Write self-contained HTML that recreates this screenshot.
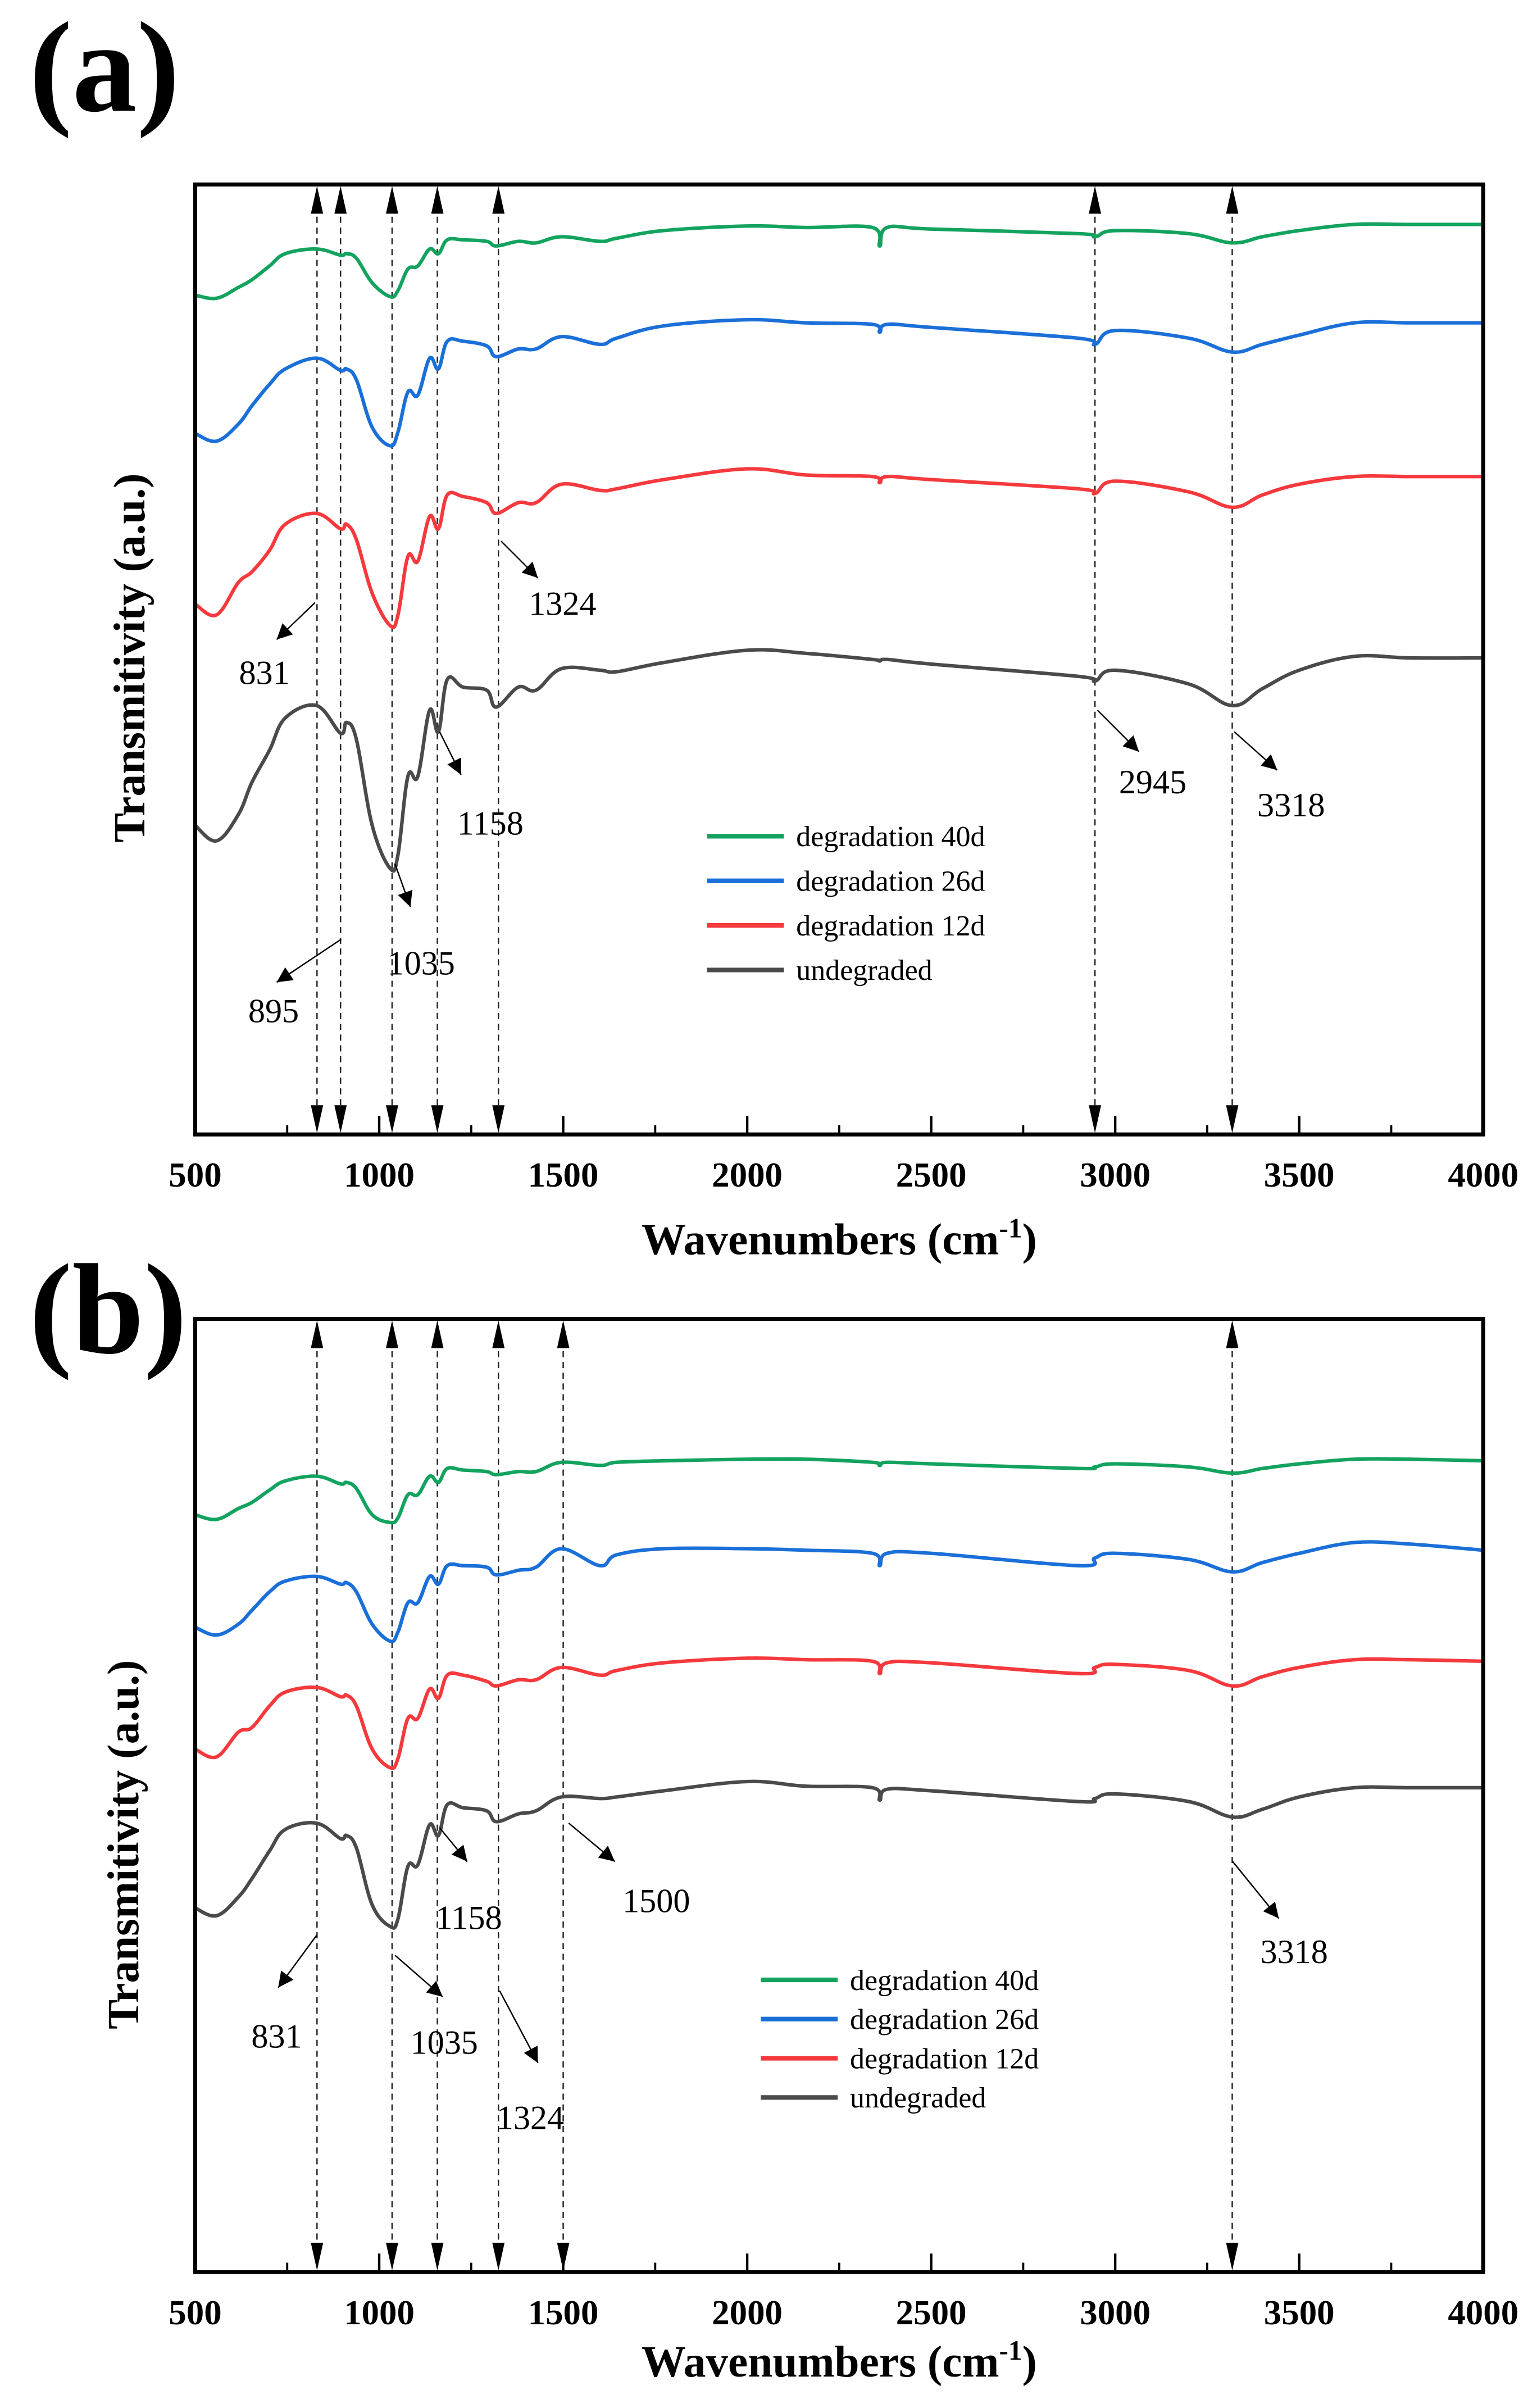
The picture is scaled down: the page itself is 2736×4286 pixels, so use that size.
<!DOCTYPE html>
<html><head><meta charset="utf-8">
<style>
html,body{margin:0;padding:0;background:#fff;}
svg{display:block;}
text{font-family:"Liberation Serif",serif;fill:#000;}
</style></head>
<body>
<svg id="fig" xmlns="http://www.w3.org/2000/svg" width="2736" height="4286" viewBox="0 0 1000 1566.5">
<defs>
<marker id="ah" viewBox="0 0 10 10" refX="10" refY="5" markerWidth="14" markerHeight="10" markerUnits="userSpaceOnUse" orient="auto"><path d="M0,0 L10,5 L0,10 z" fill="#000"/></marker>
</defs>
<g id="root"></g>
</svg>
<script>
const wavenumbers = [500,558,617,654,702,745,830,895,911,938,981,1030,1051,1078,1105,1137,1161,1185,1228,1292,1318,1378,1426,1495,1600,1645,1773,2000,2159,2340,2360,2380,2500,2900,2945,3000,3200,3318,3400,3500,3650,3800,4000];
const seriesNames = ["degradation 40d","degradation 26d","degradation 12d","undegraded"];
const seriesColors = ["#13a35f","#1a6fd8","#f5393d","#4a4a4a"];
const xTicks = [500,1000,1500,2000,2500,3000,3500,4000];
const xMinorTicks = [750,1250,1750,2250,2750,3250,3750];
// panel (a)
const a40 = [546,544,551,556,565,573,576,572,573,570,554,545,549,563,565,576,573,582,582,581,578,581,580,584,581,583,588,591,590,590,578,590,589,586,584,588,586,580,584,588,592,592,592];
const a26 = [456,451,462,474,488,498,505,497,498,491,460,448,457,483,481,505,498,516,516,513,506,511,511,519,514,518,526,530,528,527,522,527,525,518,514,523,518,509,514,520,528,528,528];
const a12 = [345,338,359,366,380,397,404,394,397,387,352,331,338,376,373,402,394,416,415,411,404,411,411,423,419,420,426,433,429,428,424,428,426,420,417,425,418,408,416,423,428,428,428];
const a0  = [201,191,208,229,250,271,279,261,268,257,201,173,182,233,233,276,262,296,291,289,278,291,289,303,302,301,307,315,313,309,308,309,306,298,295,302,293,279,290,302,311,310,310];
// panel (b)
const b40 = [491,488,495,499,507,513,516,511,512,508,491,486,489,504,504,516,512,521,520,519,517,519,519,525,523,525,526,527,527,525,523,525,524,521,522,524,522,518,521,524,527,527,526];
const b26 = [418,413,420,429,441,448,451,446,447,441,420,409,415,434,434,451,446,458,458,457,452,455,457,469,458,465,469,469,468,466,458,466,466,458,463,466,462,454,460,466,473,472,468];
const b12 = [339,334,350,353,367,376,379,373,374,367,339,327,333,359,359,378,372,387,387,383,380,384,384,392,387,390,395,398,397,396,388,395,395,388,392,394,390,380,386,392,397,397,396];
const b0  = [236,231,243,255,273,287,291,281,283,275,238,224,229,263,264,290,283,303,301,299,292,297,299,308,307,308,312,318,315,314,306,313,312,305,307,310,305,295,300,308,314,314,314];
const peaksA = [831,895,1035,1158,1324,2945,3318];
const peaksB = [831,1035,1158,1324,1500,3318];

const NS="http://www.w3.org/2000/svg";
const root=document.getElementById('root');
function mk(tag,attrs,parent){const e=document.createElementNS(NS,tag);for(const k in attrs)e.setAttribute(k,attrs[k]);(parent||root).appendChild(e);return e;}
const L=127,R=965,YMAX=618;
function xs(w){return L+(w-500)*(R-L)/3500;}
function smooth(p){
  let d=`M${p[0][0].toFixed(2)},${p[0][1].toFixed(2)}`;
  for(let i=0;i<p.length-1;i++){
    const p0=p[Math.max(0,i-1)],p1=p[i],p2=p[i+1],p3=p[Math.min(p.length-1,i+2)];
    const t=0.18;
    const c1=[p1[0]+(p2[0]-p0[0])*t,p1[1]+(p2[1]-p0[1])*t];
    const c2=[p2[0]-(p3[0]-p1[0])*t,p2[1]-(p3[1]-p1[1])*t];
    d+=` C${c1[0].toFixed(2)},${c1[1].toFixed(2)} ${c2[0].toFixed(2)},${c2[1].toFixed(2)} ${p2[0].toFixed(2)},${p2[1].toFixed(2)}`;
  }
  return d;
}

function panel(id,top,bottom,series,peaks,labelY,titleY,ytitleX,ytitleY,panelLetter,letterY,annots,legend){
  const g=mk('g',{});
  
  
  const ys=v=>bottom-v*(bottom-top)/YMAX;
  const letter=mk('text',{x:19,y:letterY,'font-size':84,'font-weight':'bold'},g);
  letter.textContent='('+panelLetter+')';
  
  
  peaks.forEach(p=>{
    const x=xs(p);
    const dl=mk('line',{x1:x,x2:x,y1:top+14,y2:bottom-14,stroke:'#222','stroke-width':0.9,'stroke-dasharray':'4,3'},g);
    
    
    const t1=mk('path',{d:`M${x-4},${top+19} L${x},${top+1} L${x+4},${top+19} Z`,fill:'#000'},g);
    
    
    const t2=mk('path',{d:`M${x-4},${bottom-19} L${x},${bottom-1} L${x+4},${bottom-19} Z`,fill:'#000'},g);
    
    
  });
  series.forEach((s,i)=>{
    const pts=wavenumbers.map((w,j)=>[xs(w),ys(s[j])]);
    const pl=mk('path',{d:smooth(pts),fill:'none',stroke:seriesColors[i],'stroke-width':2.3,'stroke-linejoin':'round'},g);
    
    
  });
  const fr=mk('rect',{x:L,y:top,width:R-L,height:bottom-top,fill:'none',stroke:'#000','stroke-width':2.6},g);
  
  
  xTicks.forEach(t=>{
    const tk=mk('line',{x1:xs(t),x2:xs(t),y1:bottom,y2:bottom-12,stroke:'#000','stroke-width':1.6},g);
    
    
    const tl=mk('text',{x:xs(t),y:labelY,'font-size':23,'font-weight':'bold','text-anchor':'middle'},g);
    tl.textContent=t;
    
    
  });
  xMinorTicks.forEach(t=>{
    const tk=mk('line',{x1:xs(t),x2:xs(t),y1:bottom,y2:bottom-6,stroke:'#000','stroke-width':1.4},g);
    
    
  });
  const xt=mk('text',{x:546,y:titleY,'font-size':29,'font-weight':'bold','text-anchor':'middle'},g);
  xt.innerHTML='Wavenumbers (cm<tspan dy="-11" font-size="18">-1</tspan><tspan dy="11">)</tspan>';
  
  
  const yt=mk('text',{x:0,y:0,'font-size':29,'font-weight':'bold','text-anchor':'middle',transform:`translate(${ytitleX},${ytitleY}) rotate(-90)`},g);
  yt.textContent='Transmitivity (a.u.)';
  
  
  annots.forEach(a=>{
    const ln=mk('line',{x1:a[1],y1:a[2],x2:a[3],y2:a[4],stroke:'#000','stroke-width':0.9,'marker-end':'url(#ah)'},g);
    
    
    const tx=mk('text',{x:a[5],y:a[6],'font-size':22,'text-anchor':'middle'},g);
    tx.textContent=a[0];
    
    
  });
  const lg=mk('g',{},g);
  
  
  seriesNames.forEach((n,i)=>{
    const y=legend.y+i*legend.dy;
    const ll=mk('line',{x1:legend.x,x2:legend.x+50,y1:y,y2:y,stroke:seriesColors[i],'stroke-width':3},lg);
    
    
    const lt=mk('text',{x:legend.x+58,y:y+6.5,'font-size':19},lg);
    lt.textContent=n;
    
    
  });
}
panel('a',120,738,[a40,a26,a12,a0],peaksA,772,816,94,428,'a',72,
 [['831',205,392,180,416,172,445],['1324',326,352,350,376,366,400],['1158',286,476,300,504,319,543],
  ['1035',257,562,267,590,274,634],['895',222,611,180,639,178,665],['2945',714,462,741,489,750,516],['3318',803,476,831,501,840,531]],
 {x:460,y:544,dy:29});
panel('b',858,1478,[b40,b26,b12,b0],peaksB,1512,1546,90,1200,'b',880,
 [['831',206,1259,181,1293,180,1332],['1035',257,1272,288,1299,289,1336],['1158',286,1189,304,1211,305,1255],
  ['1324',325,1295,350,1342,345,1385],['1500',370,1186,400,1211,427,1244],['3318',802,1211,832,1248,842,1277]],
 {x:495,y:1288,dy:25.5});
</script>
</body></html>
